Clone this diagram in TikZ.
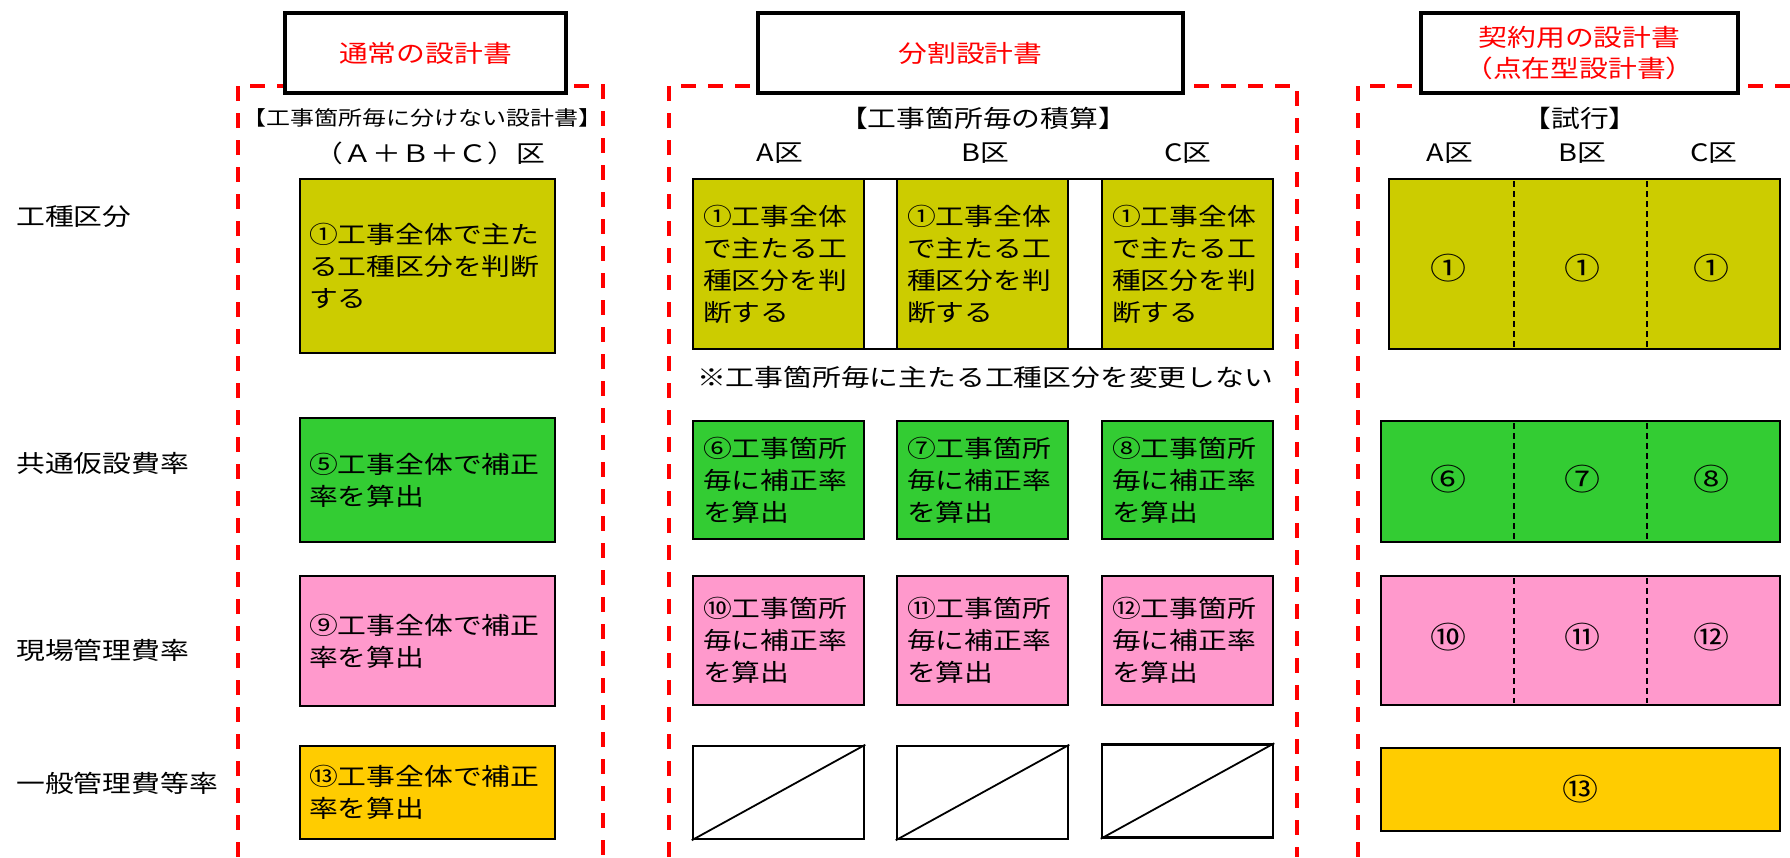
\documentclass[tikz,border=0pt]{standalone}
\usepackage{fontspec}
\setmainfont{Noto Sans CJK JP}[FakeStretch=1.2]
\definecolor{cyel}{HTML}{CCCC00}
\definecolor{cgrn}{HTML}{33CC33}
\definecolor{cpnk}{HTML}{FF99CC}
\definecolor{corg}{HTML}{FFCC00}
\definecolor{cred}{HTML}{FF0000}
\begin{document}
\begin{tikzpicture}[x=1pt,y=-1pt,
  frame/.style={draw=cred, line width=4pt, dash pattern=on 15pt off 12pt},
  titlebox/.style={draw=black, line width=4pt, fill=white, inner sep=0pt, text=cred, align=center, font=\fontsize{24}{31}\selectfont, minimum height=80pt},
  cell/.style={draw=black, line width=2.5pt, inner xsep=9pt, inner ysep=0pt, align=left, font=\fontsize{24}{32}\selectfont},
  ncell/.style={cell, inner xsep=10pt, minimum width=171pt, text width=151pt},
  wide/.style={draw=black, line width=2.5pt, inner sep=0pt, minimum width=399pt, font=\fontsize{30}{31}\selectfont},
  div/.style={draw=black, line width=1.8pt, dash pattern=on 6pt off 4pt},
  lbl/.style={inner sep=0pt, font=\fontsize{24}{31}\selectfont},
  circ/.style={inner sep=0pt, font=\fontsize{30}{31}\selectfont},
  slash/.style={draw=black, line width=2.5pt, fill=white, inner sep=0pt, minimum height=93pt, minimum width=171pt}
]
\useasboundingbox (0,0) rectangle (1790,857);

% frames
\draw[frame] (238,857) -- (238,86) -- (603,86) -- (603,857);
\draw[frame] (669,857) -- (669,86) -- (1297,86) -- (1297,857);
\draw[frame] (1358,857) -- (1358,86) -- (1795,86);

% titles
\node[titlebox, minimum width=281pt] (t1) at (425.5,53) {通常の設計書};
\node[titlebox, minimum width=425pt] (t2) at (970.5,53) {分割設計書};
\node[titlebox, minimum width=317pt] (t3) at (1579.5,53) {契約用の設計書\\（点在型設計書）};

% row labels
\node[lbl, anchor=west] (l1) at (16,217) {工種区分};
\node[lbl, anchor=west] (l2) at (16,463) {共通仮設費率};
\node[lbl, anchor=west] (l3) at (16,650) {現場管理費率};
\node[lbl, anchor=west] (l4) at (16,783) {一般管理費等率};

% column 1 headers
\node[lbl, font=\fontsize{20}{24}\selectfont] (h1) at (422,118) {【工事箇所毎に分けない設計書】};
\node[lbl] (h1b) at (430,153) {（Ａ＋Ｂ＋Ｃ）区};

% column 2 headers
\node[lbl] (h2) at (983,118) {【工事箇所毎の積算】};
\node[lbl] (h2a) at (780,153) {A区};
\node[lbl] (h2b) at (985,153) {B区};
\node[lbl] (h2c) at (1188,153) {C区};

% column 3 headers
\node[lbl] (h3) at (1580,118) {【試行】};
\node[lbl] (h3a) at (1450,153) {A区};
\node[lbl] (h3b) at (1582,153) {B区};
\node[lbl] (h3c) at (1714,153) {C区};

% column 1 cells
\node[cell, fill=cyel, minimum width=255pt, text width=237pt, minimum height=174pt] (c11) at (427.5,266) {①工事全体で主た\\る工種区分を判断\\する};
\node[cell, fill=cgrn, minimum width=255pt, text width=237pt, minimum height=124pt] (c12) at (427.5,480) {⑤工事全体で補正\\率を算出};
\node[cell, fill=cpnk, minimum width=255pt, text width=237pt, minimum height=130pt] (c13) at (427.5,641) {⑨工事全体で補正\\率を算出};
\node[cell, fill=corg, minimum width=255pt, text width=237pt, minimum height=93pt] (c14) at (427.5,792.5) {⑬工事全体で補正\\率を算出};

% column 2 cells
\node[draw=black, line width=2.5pt, fill=white, inner sep=0pt, minimum width=580pt, minimum height=170pt] (r1bg) at (983,264) {};
\node[ncell, fill=cyel, minimum height=170pt] (c21a) at (778.5,264) {①工事全体\\で主たる工\\種区分を判\\断する};
\node[ncell, fill=cyel, minimum height=170pt] (c21b) at (982.5,264) {①工事全体\\で主たる工\\種区分を判\\断する};
\node[ncell, fill=cyel, minimum height=170pt] (c21c) at (1187.5,264) {①工事全体\\で主たる工\\種区分を判\\断する};
\node[lbl] (note) at (985,377) {※工事箇所毎に主たる工種区分を変更しない};

\node[ncell, fill=cgrn, minimum height=118pt] (c22a) at (778.5,480) {⑥工事箇所\\毎に補正率\\を算出};
\node[ncell, fill=cgrn, minimum height=118pt] (c22b) at (982.5,480) {⑦工事箇所\\毎に補正率\\を算出};
\node[ncell, fill=cgrn, minimum height=118pt] (c22c) at (1187.5,480) {⑧工事箇所\\毎に補正率\\を算出};

\node[ncell, fill=cpnk, minimum height=129pt] (c23a) at (778.5,640.5) {⑩工事箇所\\毎に補正率\\を算出};
\node[ncell, fill=cpnk, minimum height=129pt] (c23b) at (982.5,640.5) {⑪工事箇所\\毎に補正率\\を算出};
\node[ncell, fill=cpnk, minimum height=129pt] (c23c) at (1187.5,640.5) {⑫工事箇所\\毎に補正率\\を算出};

\node[slash] (s1) at (778.5,792.5) {};
\node[slash] (s2) at (982.5,792.5) {};
\node[slash] (s3) at (1187.5,791) {};
\draw[line width=1.8pt] (s1.south west) -- (s1.north east);
\draw[line width=1.8pt] (s2.south west) -- (s2.north east);
\draw[line width=1.8pt] (s3.south west) -- (s3.north east);

% column 3 cells
\node[wide, fill=cyel, minimum width=391pt, minimum height=170pt] (w1) at (1584.5,264) {};
\draw[div] (1514,181) -- (1514,347);
\draw[div] (1647,181) -- (1647,347);
\node[circ] (w1a) at (1448,268) {①};
\node[circ] (w1b) at (1582,268) {①};
\node[circ] (w1c) at (1711,268) {①};

\node[wide, fill=cgrn, minimum height=121pt] (w2) at (1580.5,481.5) {};
\draw[div] (1514,423) -- (1514,540);
\draw[div] (1647,423) -- (1647,540);
\node[circ] (w2a) at (1448,479) {⑥};
\node[circ] (w2b) at (1582,479) {⑦};
\node[circ] (w2c) at (1711,479) {⑧};

\node[wide, fill=cpnk, minimum height=129pt] (w3) at (1580.5,640.5) {};
\draw[div] (1514,578) -- (1514,703);
\draw[div] (1647,578) -- (1647,703);
\node[circ] (w3a) at (1448,637) {⑩};
\node[circ] (w3b) at (1582,637) {⑪};
\node[circ] (w3c) at (1711,637) {⑫};

\node[wide, fill=corg, minimum height=83pt] (w4) at (1580.5,789.5) {⑬};
\end{tikzpicture}
\end{document}
